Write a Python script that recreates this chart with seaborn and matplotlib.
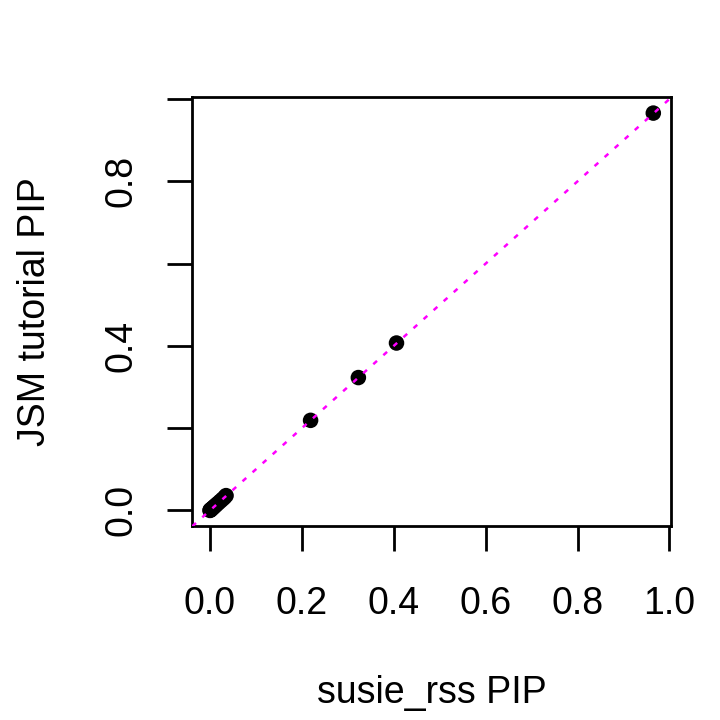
import numpy as np
import pandas as pd
import seaborn as sns
import matplotlib
matplotlib.use("Agg")
import matplotlib.pyplot as plt

# PIP values
susie_rss_pip = [0.000, 0.001, 0.002, 0.004, 0.006, 0.009, 0.012, 0.016,
                 0.021, 0.026, 0.031, 0.035, 0.219, 0.323, 0.406, 0.965]
jsm_tutorial_pip = [0.000, 0.001, 0.002, 0.004, 0.006, 0.009, 0.012, 0.016,
                    0.021, 0.026, 0.031, 0.036, 0.219, 0.323, 0.407, 0.966]

x_ticks = [0.0, 0.2, 0.4, 0.6, 0.8, 1.0]
x_tick_labels = ["0.0", "0.2", "0.4", "0.6", "0.8", "1.0"]
y_ticks = [0.0, 0.2, 0.4, 0.6, 0.8, 1.0]
y_tick_labels = ["0.0", "", "0.4", "", "0.8", ""]

df = pd.DataFrame({"susie_rss": susie_rss_pip, "jsm": jsm_tutorial_pip})

sns.set_style("ticks")
plt.rcParams['font.family'] = ['Liberation Sans', 'DejaVu Sans']

fig = plt.figure(figsize=(7.2, 7.2), dpi=100)
ax = fig.add_axes([0.267, 0.269, 0.665, 0.596])

sns.scatterplot(data=df, x="susie_rss", y="jsm", ax=ax, color="black",
                s=125, edgecolor="none", zorder=2)


def r_range(values):
    lo, hi = min(values), max(values)
    ext = 0.04 * (hi - lo)
    return lo - ext, hi + ext


ax.set_xlim(*r_range(susie_rss_pip))
ax.set_ylim(*r_range(jsm_tutorial_pip))

# y = x reference line
ax.axline((0, 0), slope=1, color="#FF00FF", linewidth=1.8,
          linestyle=(0, (2.0, 3.4)), zorder=3)

ax.set_xticks(x_ticks)
ax.set_xticklabels(x_tick_labels)
ax.set_yticks(y_ticks)
ax.set_yticklabels(y_tick_labels, rotation=90, va="center")

ax.tick_params(axis="both", direction="out", length=18, width=2,
               labelsize=27, color="black", labelcolor="black")
ax.tick_params(axis="x", pad=25)
ax.tick_params(axis="y", pad=20)

for spine in ax.spines.values():
    spine.set_visible(True)
    spine.set_linewidth(2)
    spine.set_color("black")

ax.set_xlabel("susie_rss PIP", fontsize=27, labelpad=38, color="black")
ax.set_ylabel("JSM tutorial PIP", fontsize=27, labelpad=36, color="black")
ax.grid(False)

fig.savefig("out.png", dpi=100, facecolor="white")
